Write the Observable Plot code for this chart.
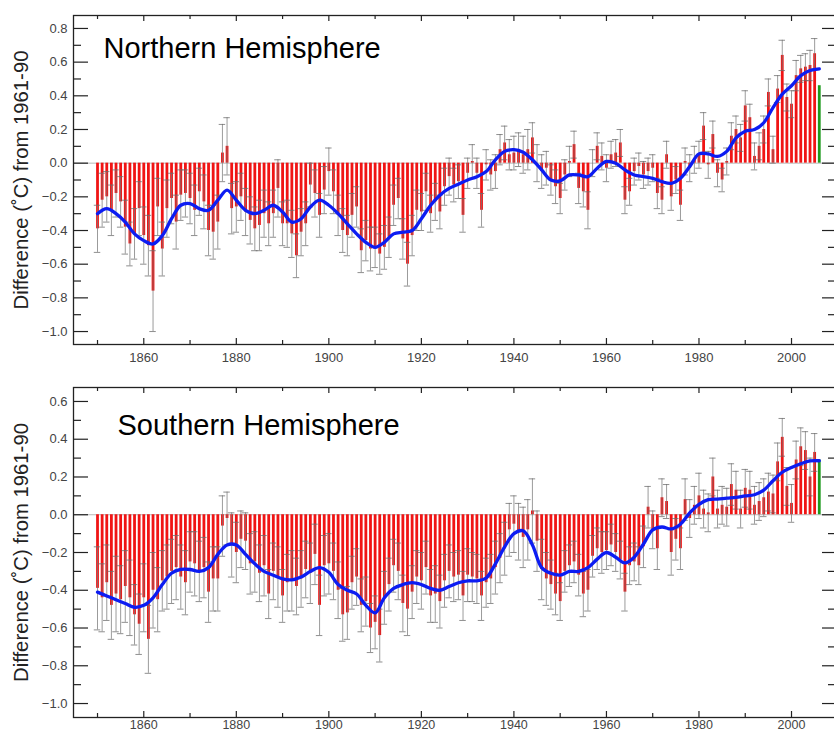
<!DOCTYPE html>
<html><head><meta charset="utf-8">
<script src="https://cdn.jsdelivr.net/npm/d3@7"></script>
<script src="https://cdn.jsdelivr.net/npm/@observablehq/plot@0.6"></script>
<style>
html,body{margin:0;padding:0;background:#fff;overflow:hidden;width:834px;height:733px}
#chart{width:834px;height:733px;overflow:hidden}
#chart svg{display:block}
</style></head><body><div id="chart"></div>
<script>
// ---------- DATA ----------
const firstYear = 1850, lastYear = 2006;   // annual bars (2006 = partial year, green)
const smoothStart = 1850, smoothStep = 2;  // smoothed curve sample years

const yLabel = "Difference (˚C) from 1961-90";
const nhTitle = "Northern Hemisphere";
const shTitle = "Southern Hemisphere";
const xTickLabels = [1860, 1880, 1900, 1920, 1940, 1960, 1980, 2000];
const xMinorTicks = [1850, 1870, 1890, 1910, 1930, 1950, 1970, 1990];
const nhYTicks = [0.8, 0.6, 0.4, 0.2, 0.0, -0.2, -0.4, -0.6, -0.8, -1.0];
const nhYMinor = [0.7, 0.5, 0.3, 0.1, -0.1, -0.3, -0.5, -0.7, -0.9];
const shYTicks = [0.6, 0.4, 0.2, 0.0, -0.2, -0.4, -0.6, -0.8, -1.0];
const shYMinor = [0.5, 0.3, 0.1, -0.1, -0.3, -0.5, -0.7, -0.9];

// Northern Hemisphere annual anomalies 1850-2006
const nhValues = [
 -0.39,-0.22,-0.20,-0.28,-0.18,-0.23,-0.38,-0.48,-0.42,-0.27,
 -0.43,-0.49,-0.76,-0.26,-0.51,-0.27,-0.21,-0.35,-0.19,-0.18,
 -0.21,-0.28,-0.17,-0.23,-0.40,-0.41,-0.35, 0.06, 0.10,-0.27,
 -0.26,-0.20,-0.29,-0.34,-0.39,-0.37,-0.30,-0.36,-0.30,-0.15,
 -0.36,-0.36,-0.42,-0.55,-0.41,-0.36,-0.13,-0.18,-0.31,-0.16,
 -0.05,-0.17,-0.31,-0.40,-0.43,-0.31,-0.26,-0.52,-0.46,-0.51,
 -0.50,-0.54,-0.50,-0.44,-0.25,-0.21,-0.45,-0.60,-0.43,-0.28,
 -0.29,-0.17,-0.30,-0.23,-0.29,-0.14,-0.08,-0.13,-0.11,-0.31,
 -0.06, 0.01,-0.06,-0.28,-0.01,-0.07,-0.05, 0.08, 0.12, 0.05,
  0.06, 0.08, 0.05, 0.08, 0.15, 0.00,-0.05,-0.03,-0.10,-0.14,
 -0.21,-0.07, 0.01, 0.11,-0.15,-0.17,-0.28, 0.00, 0.10, 0.04,
 -0.03, 0.05, 0.06, 0.12,-0.22,-0.17,-0.05,-0.02,-0.07,-0.05,
 -0.03,-0.18,-0.22, 0.05,-0.20,-0.10,-0.25, 0.01,-0.03, 0.02,
  0.05, 0.22,-0.01, 0.17,-0.06,-0.10, 0.01, 0.16, 0.20, 0.15,
  0.34, 0.27, 0.04, 0.10, 0.20, 0.42, 0.08, 0.44, 0.64, 0.39,
  0.35, 0.52, 0.56, 0.57, 0.58, 0.65, 0.46
];
// NH error half-widths (null = none drawn)
const nhErrors = [
 .14,.16,.15,.15,.14,.15,.16,.13,.15,.16,
 .17,.18,.24,.17,.16,.17,.15,.16,.15,.14,
 .15,.15,.14,.16,.15,.16,.16,.17,.17,.15,
 .15,.14,.14,.14,.13,.15,.14,.13,.14,.17,
 .13,.14,.14,.13,.14,.13,.13,.14,.13,.14,
 .14,.13,.12,.13,.12,.13,.12,.13,.12,.13,
 .12,.12,.13,.12,.12,.12,.12,.13,.12,.12,
 .11,.11,.11,.11,.10,.11,.11,.10,.10,.10,
 .09,.10,.09,.10,.09,.09,.10,.09,.10,.09,
 .10,.10,.11,.12,.09,.11,.10,.10,.09,.10,
 .09,.09,.09,.08,.09,.09,.11,.08,.08,.08,
 .08,.08,.08,.08,.08,.08,.08,.08,.08,.08,
 .08,.09,.08,.08,.08,.08,.09,.08,.08,.08,
 .08,.08,.08,.08,.08,.07,.08,.08,.08,.08,
 .09,.08,.08,.08,.08,.08,.08,.08,.09,.08,
 .08,.09,.08,.08,.09,.09,null
];
// NH smoothed curve, every 2 years 1850-2006
const nhSmooth = [
 -0.30,-0.27,-0.30,-0.35,-0.42,-0.46,-0.48,-0.43,-0.33,-0.25,
 -0.24,-0.27,-0.28,-0.22,-0.16,-0.22,-0.28,-0.30,-0.28,-0.25,
 -0.29,-0.35,-0.33,-0.26,-0.22,-0.25,-0.30,-0.36,-0.42,-0.47,
 -0.50,-0.47,-0.42,-0.41,-0.40,-0.33,-0.25,-0.19,-0.15,-0.125,
 -0.10,-0.08,-0.05,0.02,0.07,0.08,0.065,0.02,-0.04,-0.10,
 -0.105,-0.07,-0.07,-0.08,-0.03,0.01,0.00,-0.04,-0.07,-0.08,
 -0.09,-0.11,-0.12,-0.09,-0.02,0.055,0.055,0.04,0.07,0.15,
 0.19,0.20,0.24,0.33,0.41,0.46,0.52,0.55,0.56
];

// Southern Hemisphere annual anomalies 1850-2006
const shValues = [
 -0.39,-0.44,-0.36,-0.48,-0.42,-0.45,-0.38,-0.44,-0.53,-0.58,
 -0.44,-0.66,-0.40,-0.45,-0.35,-0.33,-0.30,-0.28,-0.33,-0.36,
 -0.25,-0.26,-0.30,-0.28,-0.41,-0.34,-0.34,-0.06,-0.02,-0.16,
 -0.20,-0.13,-0.14,-0.26,-0.25,-0.31,-0.27,-0.42,-0.30,-0.33,
 -0.43,-0.36,-0.35,-0.38,-0.34,-0.29,-0.31,-0.21,-0.48,-0.27,
 -0.26,-0.30,-0.40,-0.53,-0.52,-0.36,-0.33,-0.48,-0.46,-0.60,
 -0.57,-0.64,-0.44,-0.37,-0.27,-0.30,-0.47,-0.50,-0.41,-0.33,
 -0.35,-0.28,-0.43,-0.42,-0.46,-0.35,-0.30,-0.33,-0.32,-0.43,
 -0.32,-0.33,-0.34,-0.43,-0.36,-0.34,-0.28,-0.23,-0.18,-0.08,
 -0.05,-0.09,-0.12,-0.08, 0.02,-0.14,-0.29,-0.34,-0.37,-0.42,
 -0.46,-0.30,-0.27,-0.25,-0.32,-0.42,-0.40,-0.22,-0.18,-0.20,
 -0.19,-0.16,-0.20,-0.24,-0.41,-0.27,-0.25,-0.27,-0.17, 0.04,
 -0.08,-0.18, 0.09, 0.07,-0.20,-0.13,-0.18, 0.08,-0.02, 0.05,
  0.10, 0.03, 0.01, 0.20, 0.03, 0.05, 0.04, 0.16, 0.13, 0.03,
  0.14, 0.13, 0.05, 0.07, 0.09, 0.12, 0.11, 0.28, 0.41, 0.15,
  0.06, 0.29, 0.36, 0.34, 0.20, 0.33, 0.29
];
const shErrors = [
 .22,.18,.20,.18,.20,.18,.19,.20,.16,.16,
 .18,.18,.20,.17,.16,.17,.17,.17,.17,.17,
 .16,.17,.16,.16,.16,.17,.17,.16,.14,.17,
 .16,.15,.15,.16,.16,.15,.16,.13,.15,.16,
 .14,.15,.16,.15,.15,.15,.16,.16,.16,.16,
 .16,.15,.15,.14,.14,.14,.15,.14,.13,.13,
 .14,.14,.14,.14,.14,.15,.15,.14,.14,.14,
 .15,.14,.14,.15,.14,.14,.14,.13,.13,.13,
 .14,.13,.13,.13,.13,.13,.14,.13,.14,.14,
 .15,.15,.16,.16,.17,.16,.16,.14,.13,.11,
 .10,.11,.11,.11,.11,.12,.11,.11,.11,.11,
 .10,.11,.10,.10,.10,.10,.10,.10,.11,.11,
 .10,.11,.10,.09,.12,.11,.11,.11,.10,.10,
 .12,.10,.10,.10,.10,.10,.10,.11,.10,.10,
 .10,.10,.10,.10,.10,.10,.10,.10,.10,.10,
 .10,.10,.10,.10,.10,.10,null
];
const shSmooth = [
 -0.41,-0.43,-0.45,-0.47,-0.49,-0.48,-0.44,-0.37,-0.31,-0.29,
 -0.29,-0.30,-0.28,-0.21,-0.16,-0.16,-0.21,-0.26,-0.30,-0.32,
 -0.34,-0.345,-0.33,-0.30,-0.28,-0.305,-0.37,-0.40,-0.42,-0.48,
 -0.52,-0.44,-0.39,-0.37,-0.36,-0.37,-0.39,-0.40,-0.38,-0.36,
 -0.35,-0.35,-0.335,-0.26,-0.17,-0.10,-0.085,-0.16,-0.28,-0.31,
 -0.32,-0.30,-0.30,-0.28,-0.235,-0.20,-0.225,-0.255,-0.225,-0.155,
 -0.08,-0.065,-0.075,-0.05,0.01,0.055,0.08,0.083,0.088,0.092,
 0.10,0.106,0.13,0.18,0.225,0.25,0.27,0.285,0.286
];

// ---------- CHART ----------
// The plot frame's right edge lies just beyond the 834px page, as in the original.
const W = 834, ML = 73, MR = -3;
const FONT = "'Liberation Sans', Arial, Helvetica, sans-serif";

function panel(o) {
  const years = d3.range(firstYear, lastYear + 1);
  const data = years.map((year, i) => ({year, v: o.values[i], e: o.errors[i]}));
  const withErr = data.filter(d => d.e != null);
  const caps = withErr.flatMap(d => [{year: d.year, y: d.v - d.e}, {year: d.year, y: d.v + d.e}]);
  const smooth = o.smooth.map((v, i) => ({year: smoothStart + i * smoothStep, v}));
  const frameW = W - ML - MR;
  const frameH = o.height - o.marginTop - o.marginBottom;
  const tick = {stroke: "#222", strokeWidth: 1.2};
  return Plot.plot({
    width: W, height: o.height,
    marginLeft: ML, marginRight: MR, marginTop: o.marginTop, marginBottom: o.marginBottom,
    style: {fontFamily: FONT, background: "#fff", overflow: "hidden"},
    x: {domain: [1844.81, 2009.94], label: null},
    y: {domain: o.yDomain, label: null},
    marks: [
      Plot.ruleY([0], {stroke: "#9a9a9a", strokeWidth: 0.7}),
      Plot.ruleX(data, {x: "year", y1: 0, y2: "v",
        stroke: d => d.year === lastYear ? "#1f9a1f" : "#f01414", strokeWidth: 2.8}),
      Plot.ruleX(withErr, {x: "year", y1: d => d.v - d.e, y2: d => d.v + d.e, stroke: "#7a7a7a", strokeWidth: 0.75}),
      Plot.ruleY(caps, {y: "y", x1: d => d.year - 0.7, x2: d => d.year + 0.7, stroke: "#6a6a6a", strokeWidth: 0.75}),
      Plot.line(smooth, {x: "year", y: "v", stroke: "#0c1cf2", strokeWidth: 3.3, curve: "catmull-rom"}),
      Plot.frame({stroke: "#222", strokeWidth: 1.3}),
      // inward ticks
      Plot.ruleY(o.yTicks, {y: d => d, insetRight: frameW - 15, ...tick}),
      Plot.ruleY(o.yMinor, {y: d => d, insetRight: frameW - 8, ...tick}),
      Plot.ruleY(o.yTicks, {y: d => d, insetLeft: frameW - 15, ...tick}),
      Plot.ruleY(o.yMinor, {y: d => d, insetLeft: frameW - 9, ...tick}),
      Plot.ruleX(xTickLabels, {x: d => d, insetBottom: frameH - 6, ...tick}),
      Plot.ruleX(xMinorTicks, {x: d => d, insetBottom: frameH - 4, ...tick}),
      Plot.ruleX(xTickLabels, {x: d => d, insetTop: frameH - 6, ...tick}),
      Plot.ruleX(xMinorTicks, {x: d => d, insetTop: frameH - 4, ...tick}),
      Plot.axisY({ticks: o.yTicks, tickSize: 0, tickPadding: 6, tickFormat: d3.format(".1f"),
        fontSize: 13, color: "#444", label: null}),
      Plot.axisX({ticks: xTickLabels, tickSize: 0, tickPadding: o.xPad, tickFormat: d => String(d),
        fontSize: o.xFont, color: "#444", label: null}),
      Plot.text([yLabel], {frameAnchor: "left", dx: -46, rotate: -90, fontSize: 20.3,
        lineAnchor: "bottom", textAnchor: "middle", fill: "#222"}),
      Plot.text([o.title], {frameAnchor: "top-left", dx: o.titleDx, dy: o.titleDy, fontSize: 29,
        lineAnchor: "bottom", textAnchor: "start", fill: "#000"})
    ]
  });
}

const root = document.getElementById("chart");
root.append(panel({
  values: nhValues, errors: nhErrors, smooth: nhSmooth, title: nhTitle,
  yDomain: [-1.077, 0.877], yTicks: nhYTicks, yMinor: nhYMinor,
  height: 370, marginTop: 15, marginBottom: 26, xPad: 8, xFont: 13, titleDx: 30, titleDy: 42
}));
root.append(panel({
  values: shValues, errors: shErrors, smooth: shSmooth, title: shTitle,
  yDomain: [-1.074, 0.674], yTicks: shYTicks, yMinor: shYMinor,
  height: 363, marginTop: 17, marginBottom: 16, xPad: 3, xFont: 12.5, titleDx: 44, titleDy: 47
}));
</script></body></html>
